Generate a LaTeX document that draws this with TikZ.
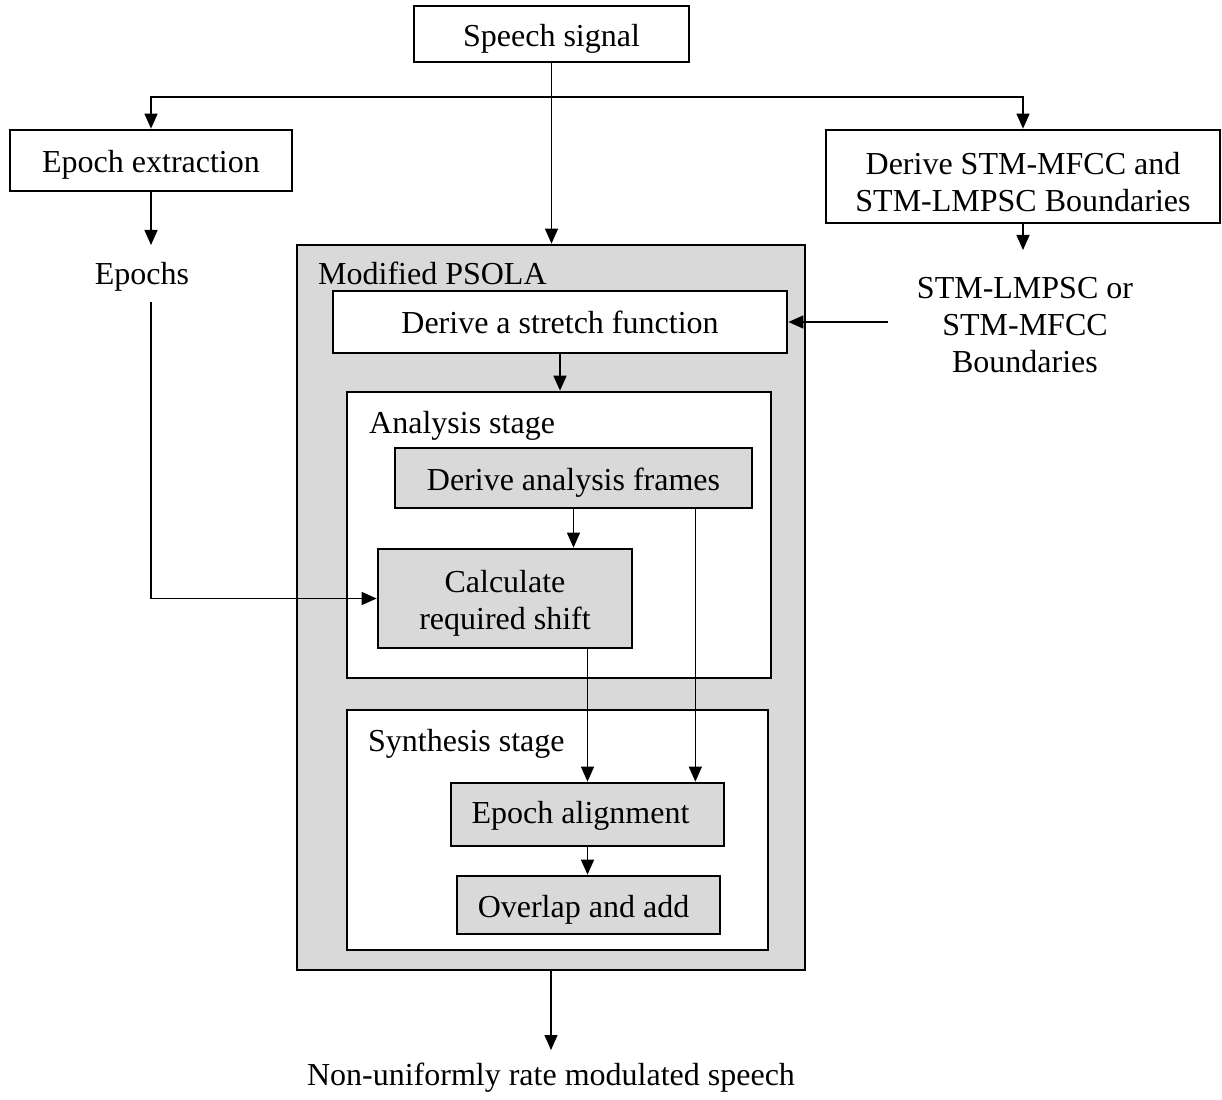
\documentclass[tikz,border=0pt]{standalone}
\usepackage{fontspec}
\setmainfont{Liberation Serif}
\usetikzlibrary{arrows.meta}
\definecolor{shade}{HTML}{D9D9D9}
% invisible strut that lowers a box's text by enlarging its first line
\newcommand\padtop[1]{\rule{0pt}{#1pt}}
\begin{document}
\begin{tikzpicture}[x=1pt,y=-1pt,
  every node/.style={font=\fontsize{32}{37}\selectfont, inner sep=0pt},
  box/.style={draw, line width=2.7pt, align=center},
  wbox/.style={box, fill=white},
  gbox/.style={box, fill=shade},
  conn/.style={line width=1.4pt},
  arr/.style={conn, -{Triangle[length=15pt,width=13pt]}},
  lbl/.style={anchor=base west},
  free/.style={align=center},
]
\useasboundingbox (0,0) rectangle (1222,1099);

% top row
\node[wbox, minimum width=275, minimum height=56] (speech) at (551.5,34) {\padtop{32}Speech signal};
\node[wbox, minimum width=282, minimum height=61] (epx) at (151,160.5) {\padtop{30}Epoch extraction};
\node[wbox, minimum width=394, minimum height=93] (stm) at (1023,176.5)
  {\padtop{33}Derive STM-MFCC and\\STM-LMPSC Boundaries};

% intermediate results
\node[free, anchor=north] (epochs) at (142,245) {\rule[-18pt]{0pt}{57pt}Epochs};
\node[free, anchor=north] (stmout) at (1025,250)
  {\rule{0pt}{48pt}STM-LMPSC or\\STM-MFCC\\Boundaries};
\coordinate (bfrom) at (888,322);

% modified PSOLA block
\node[gbox, minimum width=508, minimum height=725] (psola) at (551,607.5) {};
\node[lbl] (psolalbl) at (318,284) {Modified PSOLA};
\node[wbox, minimum width=454, minimum height=62] (stretch) at (560,322) {Derive a stretch function};

\node[wbox, minimum width=424, minimum height=286] (analysis) at (559,535) {};
\node[lbl] (analysislbl) at (369,433) {Analysis stage};
\node[gbox, minimum width=357, minimum height=60] (frames) at (573.5,478) {\padtop{31}Derive analysis frames};
\node[gbox, minimum width=254, minimum height=99] (calc) at (505,598.5) {\padtop{32}Calculate\\required shift};

\node[wbox, minimum width=421, minimum height=240] (synthesis) at (557.5,830) {};
\node[lbl] (synthesislbl) at (368,751) {Synthesis stage};
\node[gbox, minimum width=273, minimum height=63] (align) at (587.5,814.5) {\padtop{25}Epoch alignment\hspace{14pt}};
\node[gbox, minimum width=263, minimum height=58] (overlap) at (588.5,905) {\padtop{31}Overlap and add\hspace{10pt}};

% output
\node[free, anchor=north] (out) at (551,1050)
  {\rule{0pt}{35pt}Non-uniformly rate modulated speech};

% connectors
\coordinate (split) at (551.5,97);
\draw[conn] (speech.south) -- (split);
\draw[arr] (split) -- (speech.south |- psola.north);
\draw[arr] (split) -| (epx.north);
\draw[arr] (split) -| (stm.north);
\draw[arr] (epx.south) -- (epx.south |- epochs.north);
\draw[arr] (stm.south) -- (stm.south |- stmout.north);
\draw[arr] (bfrom) -- (stretch.east |- bfrom);
\draw[arr] (stretch.south) -- (stretch.south |- analysis.north);
\draw[arr] (frames.south) -- (frames.south |- calc.north);
\draw[arr] ([xshift=-30pt]align.north east |- frames.south) -- ([xshift=-30pt]align.north east);
\draw[arr] (calc.south -| align.north) -- (align.north);
\draw[arr] (align.south) -- (align.south |- overlap.north);
\draw[arr] (epx.south |- epochs.south) -- (epx.south |- calc.west) -- (calc.west);
\draw[arr] (psola.south) -- (psola.south |- out.north);
\end{tikzpicture}
\end{document}
